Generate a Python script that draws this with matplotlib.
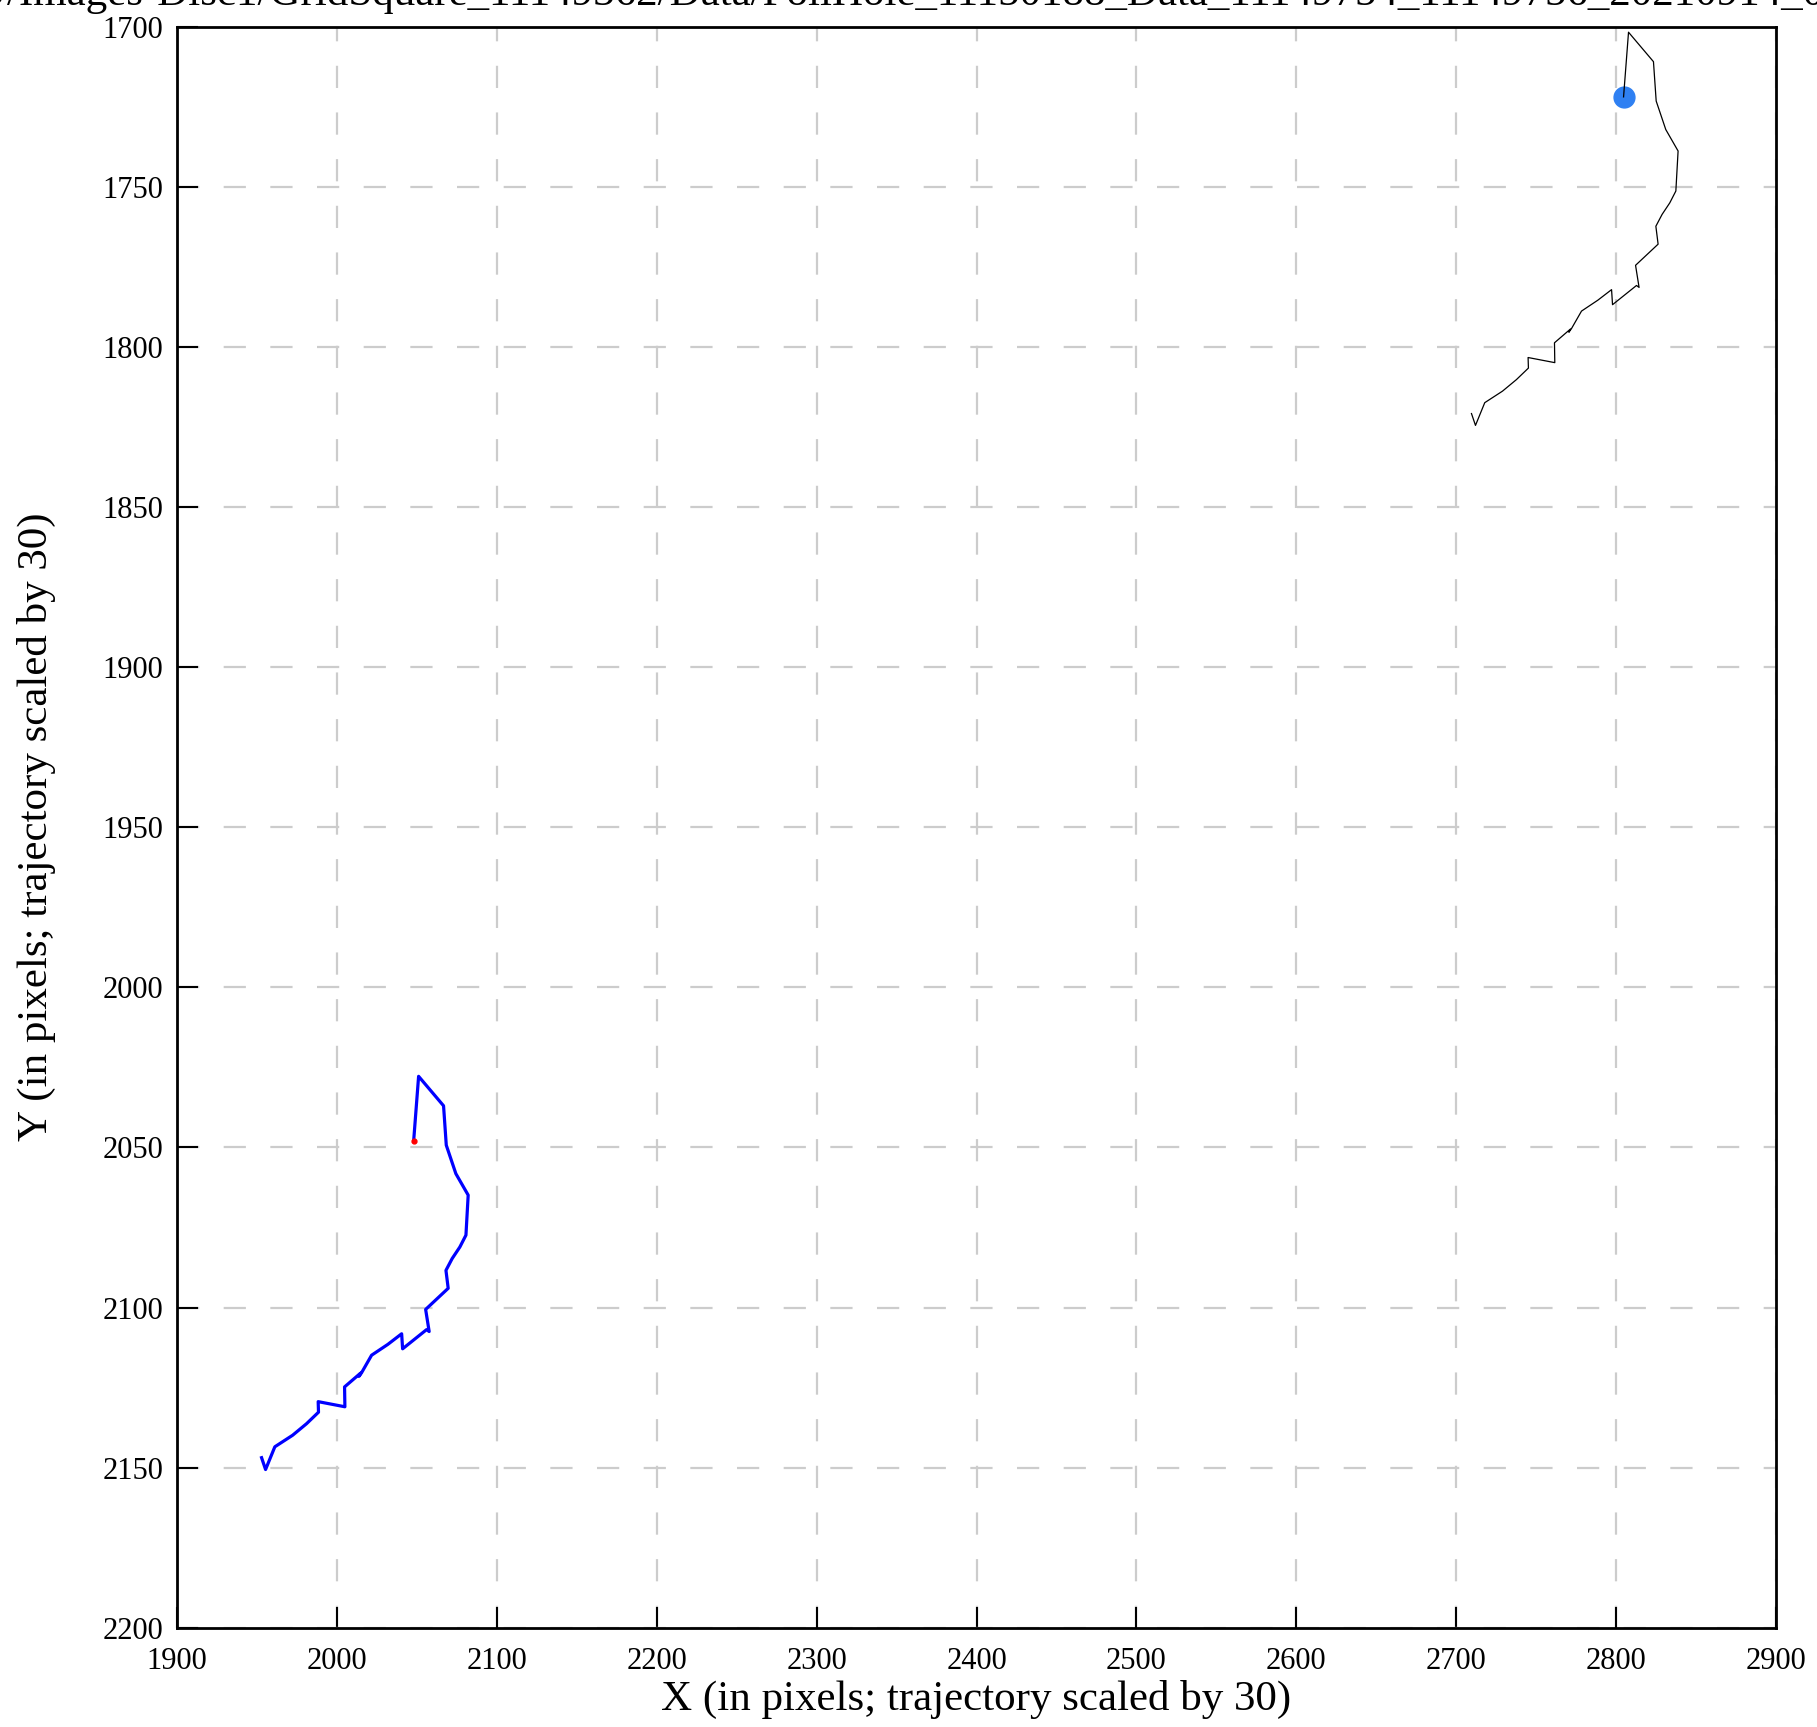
import matplotlib
matplotlib.use("Agg")
import matplotlib.pyplot as plt

# motion track, offsets from the first frame (pixels)
shift_x = [0.0, 3.1, 18.7, 20.4, 26.4, 34.1, 32.7, 28.9, 24.1, 20.2, 21.6, 7.5, 9.7, 8.1,
           -6.9, -7.5, -16.1, -26.3, -32.6, -34.2, -33.2, -43.2, -43.0, -59.7, -59.5,
           -67.0, -75.7, -86.8, -92.6, -95.1]
shift_y = [0.0, -20.2, -11.0, 1.3, 10.2, 16.9, 29.4, 33.1, 36.7, 40.4, 46.0, 52.6, 59.5, 58.9,
           64.9, 60.2, 63.5, 66.9, 72.4, 73.5, 72.5, 76.8, 83.0, 81.4, 84.7,
           88.3, 91.9, 95.5, 102.6, 98.9]

particle_xy = (2804.6, 1721.9)
centre_xy = (2048.0, 2048.0)

title = ("Movies/EPU/Images-Disc1/GridSquare_11149362/Data/"
         "FoilHole_11150188_Data_11149754_11149756_20210914_031415_fractions.tiff")

plt.rcParams['font.family'] = ['Liberation Serif', 'DejaVu Serif']

fig = plt.figure(figsize=(18.17, 17.27), dpi=100)
ax = fig.add_axes([0.0974, 0.0575, 0.8801, 0.927])

black_x = [particle_xy[0] + d for d in shift_x]
black_y = [particle_xy[1] + d for d in shift_y]
blue_x = [centre_xy[0] + d for d in shift_x]
blue_y = [centre_xy[1] + d for d in shift_y]

ax.plot(particle_xy[0], particle_xy[1], 'o', color='#2f80f2', markersize=15, zorder=2)
ax.plot(black_x, black_y, color='black', lw=0.9, zorder=3)
ax.plot(blue_x, blue_y, color='blue', lw=2.3, zorder=3)
ax.plot(centre_xy[0], centre_xy[1], 'o', color='red', markersize=3.5, zorder=4)

ax.set_xlim(1900, 2900)
ax.set_ylim(2200, 1700)
ax.set_xticks(range(1900, 2901, 100))
ax.set_yticks(range(1700, 2201, 50))

ax.grid(True, color='#cccccc', lw=1.6, linestyle=(0, (10, 11)))
ax.set_axisbelow(True)
ax.tick_params(direction='in', length=15, width=1.5, labelsize=22, pad=10,
               top=False, right=False)
ax.tick_params(axis='x', pad=14)
for s in ax.spines.values():
    s.set_linewidth(2)

ax.set_xlabel("X (in pixels; trajectory scaled by 30)", fontsize=31, labelpad=3)
ax.set_ylabel("Y (in pixels; trajectory scaled by 30)", fontsize=31, labelpad=33)
ax.set_title(title, fontsize=31, pad=16)

fig.savefig("out.png", dpi=100)
